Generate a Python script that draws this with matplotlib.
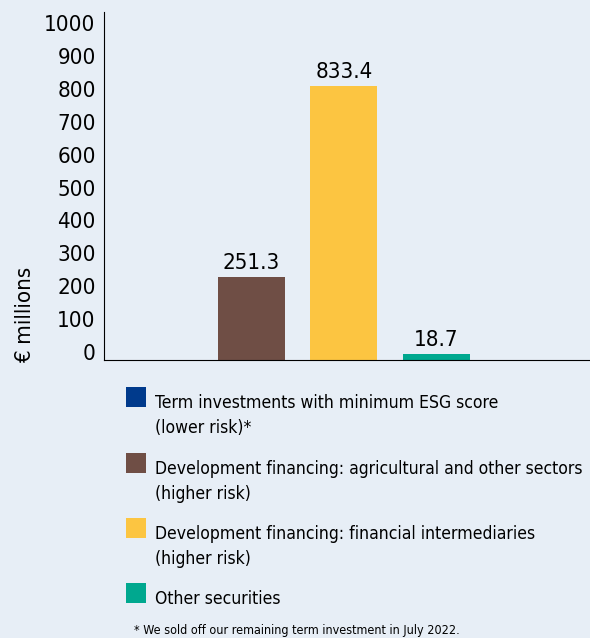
import matplotlib.pyplot as plt
from matplotlib.patches import Rectangle
from matplotlib import font_manager

categories = ['Term investments with minimum ESG score\n(lower risk)*',
              'Development financing: agricultural and other sectors\n(higher risk)',
              'Development financing: financial intermediaries\n(higher risk)',
              'Other securities']
values = [0.0, 251.3, 833.4, 18.7]
value_labels = ['', '251.3', '833.4', '18.7']
colors = ['#003a8c', '#6f4e45', '#fcc541', '#00a88f']
yticks = [0, 100, 200, 300, 400, 500, 600, 700, 800, 900, 1000]
footnote = '* We sold off our remaining term investment in July 2022.'

# look for a narrow/condensed face, otherwise plain Liberation Sans
narrow = None
for f in font_manager.fontManager.ttflist:
    fn = f.fname.replace('-', '').replace('_', '')
    if ('SansNarrow' in fn or 'SansCondensed' in fn) and f.weight in (400, 'normal') \
            and f.style == 'normal':
        narrow = f.fname
        break
if narrow:
    fp = lambda size: font_manager.FontProperties(fname=narrow, size=size)
    sz = {'tick': 16, 'val': 16, 'leg': 12.6, 'foot': 9, 'ylab': 16}
else:
    fp = lambda size: font_manager.FontProperties(family='Liberation Sans', size=size)
    sz = {'tick': 15, 'val': 15, 'leg': 12.6, 'foot': 9.5, 'ylab': 16}

bg = '#e7eef6'
W, H = 590, 638
fig = plt.figure(figsize=(W / 100, H / 100), dpi=100, facecolor=bg)

def px(x, y):
    return x / W, 1 - y / H

# axes from x=104..590, y=12..360
l, b = px(104, 360)
r, t = px(590, 12)
ax = fig.add_axes([l, b, r - l, t - b], facecolor=bg)

x = list(range(len(values)))
bars = ax.bar(x, values, width=0.72, color=colors)
for bar, lab in zip(bars, value_labels):
    if lab:
        ax.annotate(lab, (bar.get_x() + bar.get_width() / 2, bar.get_height()),
                    xytext=(0, 3), textcoords='offset points',
                    ha='center', va='bottom', fontproperties=fp(sz['val']))

ax.set_xlim(-0.59, 4.66)
ax.set_ylim(0, 1058)
ax.set_yticks(yticks)
ax.set_yticklabels([str(v) for v in yticks], va='baseline')
for lbl in ax.get_yticklabels():
    lbl.set_fontproperties(fp(sz['tick']))
ax.tick_params(axis='y', length=0, pad=6)
ax.set_xticks([])
for s in ['top', 'right']:
    ax.spines[s].set_visible(False)
ax.set_ylabel('€ millions', fontproperties=fp(sz['ylab']))
ax.yaxis.set_label_coords(-0.142, 0.13)

# legend, drawn by hand
entry_tops = [387, 453, 518, 583]
for top, c, cat in zip(entry_tops, colors, categories):
    x0, y0 = px(126, top + 20)
    fig.add_artist(Rectangle((x0, y0), 20 / W, 20 / H, transform=fig.transFigure,
                             facecolor=c, edgecolor='none'))
    lines = cat.split('\n')
    for i, line in enumerate(lines):
        tx, ty = px(155, top + 21 + 25 * i)
        fig.text(tx, ty, line, va='baseline', ha='left', fontproperties=fp(sz['leg']))

fx, fy = px(134, 634)
fig.text(fx, fy, footnote, va='baseline', ha='left', fontproperties=fp(sz['foot']))

fig.savefig('out.png', dpi=100, facecolor=bg)
